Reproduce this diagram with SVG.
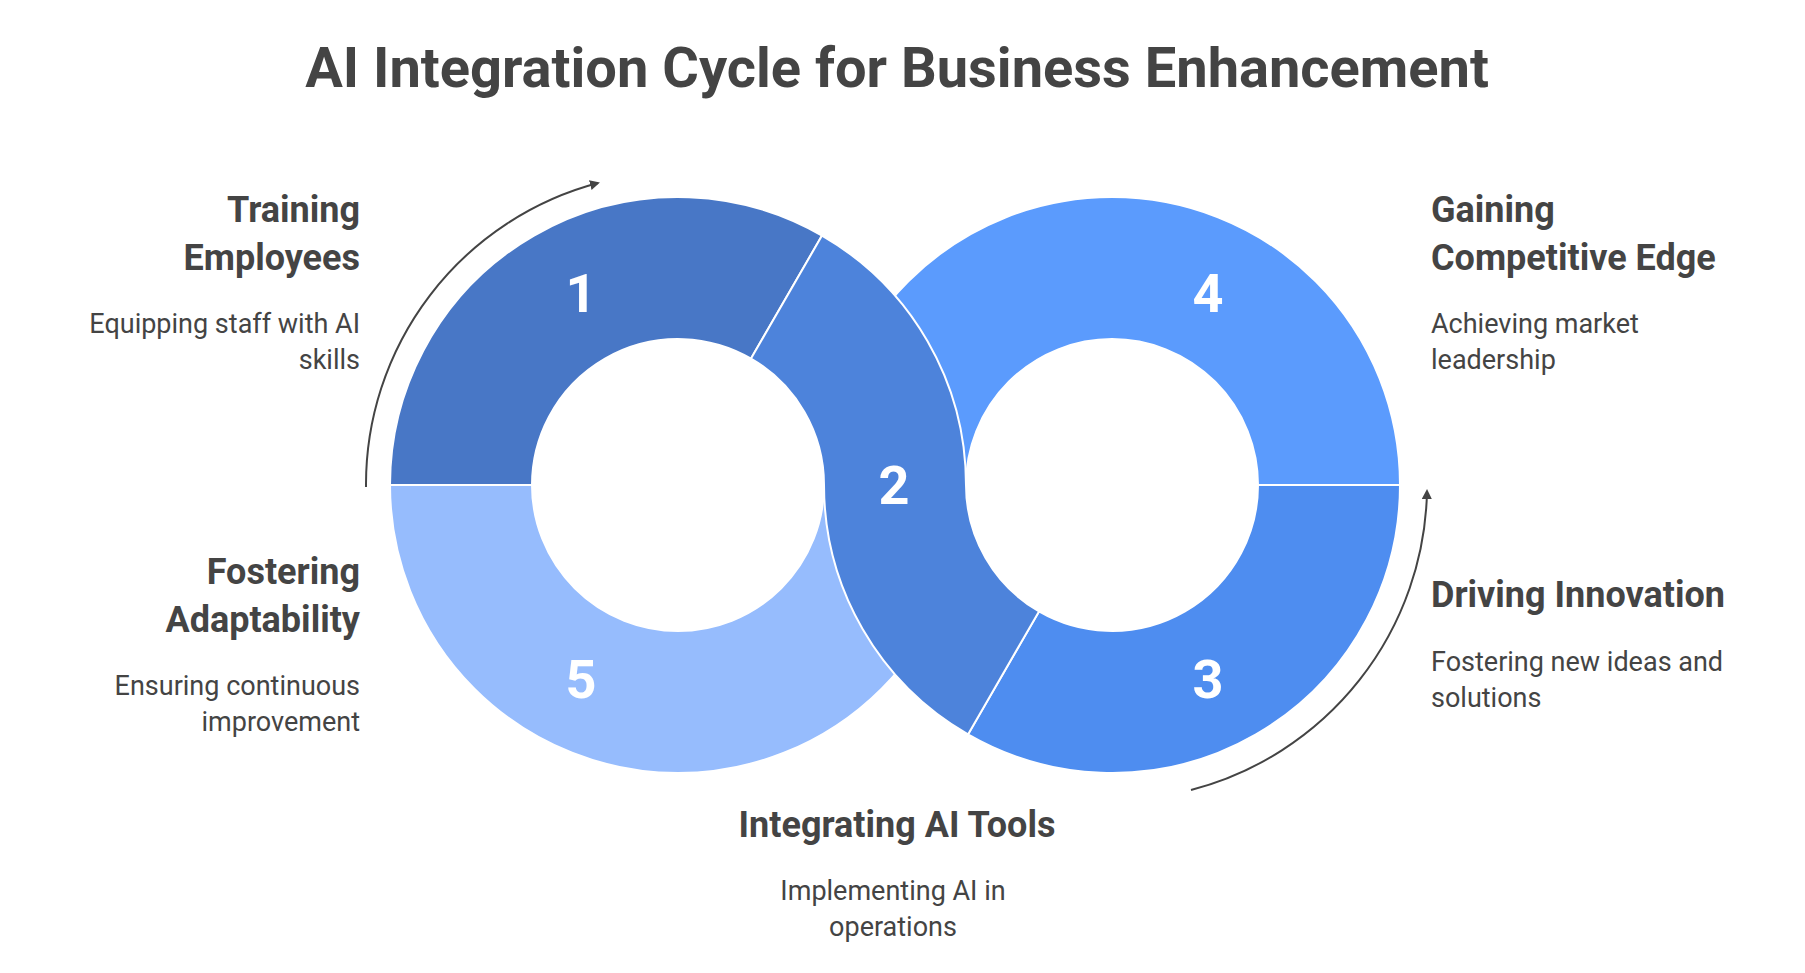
<svg xmlns="http://www.w3.org/2000/svg" width="1805" height="973" viewBox="0 0 1805 973">
<style>
.seg{stroke:#fff;stroke-width:2}
.num{font-family:Roboto,"Liberation Sans",sans-serif;font-weight:bold;font-size:54px;fill:#fff;text-anchor:middle}
.h{font-family:Roboto,"Liberation Sans",sans-serif;font-weight:bold;font-size:36px;fill:#444}
.d{font-family:Roboto,"Liberation Sans",sans-serif;font-size:27px;fill:#444}
.r{text-anchor:end}.c{text-anchor:middle}
.arc{fill:none;stroke:#444;stroke-width:2;marker-end:url(#ah)}
</style>
<defs><marker id="ah" markerWidth="10" markerHeight="10" refX="8" refY="5" orient="auto" markerUnits="userSpaceOnUse"><path d="M0,0 L10,5 L0,10 Z" fill="#444"/></marker></defs>
<rect width="1805" height="973" fill="#fff"/>
<text x="897" y="87" class="h c" style="font-size:56px">AI Integration Cycle for Business Enhancement</text>
<g id="connectors">
<path class="arc" d="M366 487 A312 312 0 0 1 598 183"/>
<path class="arc" d="M1191 790 A315 315 0 0 0 1427 491"/>
</g>
<g id="node5"><path class="seg" fill="#96BCFD" d="M390 485 A288 288 0 0 0 966 485 L824 485 A146 146 0 0 1 532 485 Z"/><text class="num" x="581" y="698">5</text></g>
<g id="node4"><path class="seg" fill="#5B9BFD" d="M824 485 A288 288 0 0 1 1400 485 L1258 485 A146 146 0 0 0 966 485 Z"/><text class="num" x="1208" y="312">4</text></g>
<g id="node1"><path class="seg" fill="#4877C6" d="M390 485 A288 288 0 0 1 822 235.6 L751 358.6 A146 146 0 0 0 532 485 Z"/><text class="num" x="581" y="312">1</text></g>
<g id="node3"><path class="seg" fill="#4E8DF0" d="M1400 485 A288 288 0 0 1 968 734.4 L1039 611.4 A146 146 0 0 0 1258 485 Z"/><text class="num" x="1208" y="698">3</text></g>
<g id="node2"><path class="seg" fill="#4D83DB" d="M822 235.6 A288 288 0 0 1 966 485 A146 146 0 0 0 1039 611.4 L968 734.4 A288 288 0 0 1 824 485 A146 146 0 0 0 751 358.6 Z"/><text class="num" x="894" y="504">2</text></g>
<g id="label1"><text class="h r" x="360" y="222">Training</text><text class="h r" x="360" y="270">Employees</text><text class="d r" x="360" y="333">Equipping staff with AI</text><text class="d r" x="360" y="369">skills</text></g>
<g id="label5"><text class="h r" x="360" y="584">Fostering</text><text class="h r" x="360" y="632">Adaptability</text><text class="d r" x="360" y="695">Ensuring continuous</text><text class="d r" x="360" y="731">improvement</text></g>
<g id="label4"><text class="h" x="1431" y="222">Gaining</text><text class="h" x="1431" y="270">Competitive Edge</text><text class="d" x="1431" y="333">Achieving market</text><text class="d" x="1431" y="369">leadership</text></g>
<g id="label3"><text class="h" x="1431" y="607">Driving Innovation</text><text class="d" x="1431" y="671">Fostering new ideas and</text><text class="d" x="1431" y="707">solutions</text></g>
<g id="label2"><text class="h c" x="897" y="837">Integrating AI Tools</text><text class="d c" x="893" y="900">Implementing AI in</text><text class="d c" x="893" y="936">operations</text></g>
</svg>
